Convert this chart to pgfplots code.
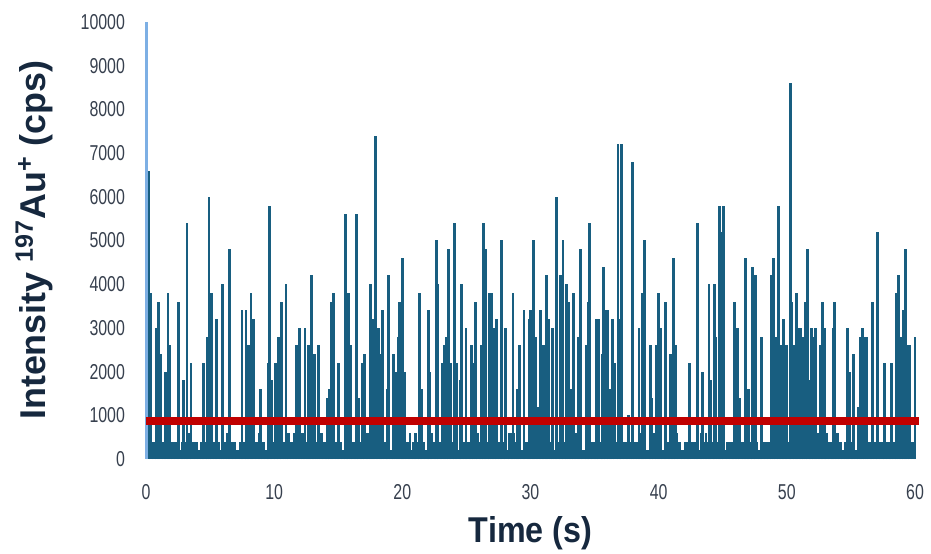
\documentclass[border=0pt]{standalone}
\usepackage{pgfplots}
\pgfplotsset{compat=1.18}
\usepackage{fontspec}
\setmainfont{Liberation Sans}
\usepackage{graphicx}
\definecolor{spk}{RGB}{24,94,128}
\definecolor{lb}{RGB}{125,175,228}
\definecolor{thr}{RGB}{192,0,0}
\definecolor{tk}{RGB}{55,64,78}
\definecolor{ttl}{RGB}{22,40,62}
\newcommand\tl[1]{\scalebox{0.74}[1]{#1}}
\begin{document}
\begin{tikzpicture}
\useasboundingbox (-73bp,-47.5bp) rectangle (392.5bp,229.5bp);
\begin{axis}[
  scale only axis, width=384.5bp, height=218.5bp,
  xmin=0, xmax=60, ymin=0, ymax=10000,
  scaled y ticks=false, scaled x ticks=false,
  axis line style={draw=none}, major tick length=0pt,
  xtick={0,10,20,30,40,50,60},
  xticklabels={\tl{0},\tl{10},\tl{20},\tl{30},\tl{40},\tl{50},\tl{60}},
  ytick={0,1000,2000,3000,4000,5000,6000,7000,8000,9000,10000},
  yticklabels={\tl{0},\tl{1000},\tl{2000},\tl{3000},\tl{4000},\tl{5000},\tl{6000},\tl{7000},\tl{8000},\tl{9000},\tl{10000}},
  tick label style={font=\fontsize{10.8}{12}\selectfont, text=tk},
  yticklabel shift=7bp, xticklabel shift=9bp,
  xlabel={\scalebox{0.9}[1]{Time (s)}},
  ylabel={Intensity \textsuperscript{197}Au\textsuperscript{+} (cps)},
  xlabel style={at={(axis description cs:0.5,-0.17)}, anchor=center, font=\fontsize{18}{20}\selectfont\bfseries, text=ttl},
  ylabel style={at={(axis description cs:-0.1456,0.501)}, anchor=center, font=\fontsize{18}{20}\selectfont\bfseries, text=ttl},
  clip=false,
]
% baseline counts
\addplot[ycomb, spk, line width=2bp] coordinates {
(0.125,400)(0.375,200)(0.625,400)(0.875,400)(1.125,600)(1.375,400)(1.625,200)(1.875,400)(2.125,400)(2.375,400)
(2.625,200)(2.875,400)(3.125,400)(3.375,600)(3.625,400)(3.875,400)(4.125,200)(4.375,400)(4.625,400)(4.875,200)
(5.125,400)(5.375,400)(5.625,400)(5.875,200)(6.125,400)(6.375,600)(6.625,400)(6.875,400)(7.125,200)(7.375,400)
(7.625,400)(7.875,200)(8.125,400)(8.375,400)(8.625,400)(8.875,600)(9.125,400)(9.375,200)(9.625,400)(9.875,400)
(10.125,400)(10.375,400)(10.625,200)(10.875,400)(11.125,400)(11.375,400)(11.625,600)(11.875,400)(12.125,200)(12.375,400)
(12.625,200)(12.875,400)(13.125,400)(13.375,400)(13.625,600)(13.875,400)(14.125,400)(14.375,200)(14.625,400)(14.875,400)
(15.125,400)(15.375,200)(15.625,400)(15.875,600)(16.125,400)(16.375,400)(16.625,400)(16.875,200)(17.125,400)(17.375,400)
(17.625,600)(17.875,400)(18.125,200)(18.375,400)(18.625,400)(18.875,400)(19.125,200)(19.375,400)(19.625,600)(19.875,400)
(20.125,400)(20.375,400)(20.625,200)(20.875,400)(21.125,400)(21.375,600)(21.625,400)(21.875,200)(22.125,400)(22.375,400)
(22.625,200)(22.875,400)(23.125,400)(23.375,400)(23.625,600)(23.875,400)(24.125,400)(24.375,200)(24.625,400)(24.875,400)
(25.125,400)(25.375,200)(25.625,400)(25.875,400)(26.125,400)(26.375,600)(26.625,400)(26.875,400)(27.125,200)(27.375,400)
(27.625,400)(27.875,400)(28.125,200)(28.375,400)(28.625,600)(28.875,400)(29.125,400)(29.375,200)(29.625,400)(29.875,400)
(30.125,200)(30.375,400)(30.625,400)(30.875,400)(31.125,400)(31.375,600)(31.625,400)(31.875,200)(32.125,400)(32.375,400)
(32.625,400)(32.875,200)(33.125,400)(33.375,600)(33.625,400)(33.875,400)(34.125,200)(34.375,400)(34.625,400)(34.875,400)
(35.125,400)(35.375,400)(35.625,200)(35.875,400)(36.125,400)(36.375,600)(36.625,400)(36.875,400)(37.125,200)(37.375,400)
(37.625,200)(37.875,400)(38.125,400)(38.375,400)(38.625,600)(38.875,400)(39.125,200)(39.375,400)(39.625,400)(39.875,400)
(40.125,400)(40.375,200)(40.625,400)(40.875,400)(41.125,400)(41.375,600)(41.625,400)(41.875,200)(42.125,400)(42.375,400)
(42.625,400)(42.875,400)(43.125,200)(43.375,600)(43.625,400)(43.875,400)(44.125,400)(44.375,200)(44.625,400)(44.875,400)
(45.125,200)(45.375,400)(45.625,400)(45.875,400)(46.125,600)(46.375,400)(46.625,400)(46.875,200)(47.125,400)(47.375,400)
(47.625,400)(47.875,200)(48.125,400)(48.375,400)(48.625,400)(48.875,600)(49.125,400)(49.375,200)(49.625,400)(49.875,400)
(50.125,400)(50.375,400)(50.625,200)(50.875,400)(51.125,600)(51.375,400)(51.625,400)(51.875,200)(52.125,400)(52.375,400)
(52.625,200)(52.875,400)(53.125,400)(53.375,400)(53.625,400)(53.875,600)(54.125,400)(54.375,200)(54.625,400)(54.875,400)
(55.125,400)(55.375,200)(55.625,400)(55.875,600)(56.125,400)(56.375,400)(56.625,200)(56.875,400)(57.125,400)(57.375,400)
(57.625,400)(57.875,400)(58.125,200)(58.375,400)(58.625,400)(58.875,600)(59.125,400)(59.375,200)(59.625,400)(59.875,400)
};
% particle events
\addplot[ycomb, spk, line width=1.4bp] coordinates {
(0.18,6600)(0.37,3800)(0.82,3000)(0.99,3600)(1.15,2400)(1.50,2000)(1.72,3800)(1.87,2600)(2.52,3600)(2.91,1800)
(3.20,5400)(3.51,2200)(4.50,2200)(4.76,2800)(4.91,6000)(5.10,3800)(5.50,3200)(6.00,4000)(6.50,4800)(7.49,3400)
(7.80,3400)(7.98,2600)(8.20,3800)(8.37,3200)(8.92,1600)(9.52,2200)(9.62,5800)(9.80,1800)(10.10,2200)(10.35,2800)
(10.60,3600)(10.92,4000)(11.10,600)(11.73,2600)(12.00,3000)(12.20,600)(12.40,3000)(12.66,2600)(12.78,2400)(12.92,4200)
(13.13,2400)(13.44,2600)(14.14,1400)(14.30,1600)(14.48,3600)(14.64,3800)(15.03,2200)(15.55,5600)(15.70,2800)(15.83,3800)
(15.98,2600)(16.43,5600)(16.58,1400)(16.90,2200)(17.03,2400)(17.28,600)(17.53,4000)(17.68,3200)(17.76,2000)(17.92,7400)
(18.12,3000)(18.27,2400)(18.43,3400)(18.80,1600)(18.93,4200)(19.32,2400)(19.48,2000)(19.68,2800)(19.81,3600)(20.00,4600)
(20.16,2000)(20.60,600)(21.00,600)(21.32,3800)(21.50,1600)(22.02,3400)(22.15,2000)(22.28,600)(22.65,5000)(22.78,4000)
(23.10,2200)(23.26,2600)(23.42,2800)(23.61,4800)(23.74,2200)(24.05,5400)(24.20,2200)(24.52,1800)(24.62,4000)(24.96,3000)
(25.40,2600)(25.58,2200)(25.72,3600)(25.85,600)(26.13,2600)(26.31,5400)(26.52,4800)(26.83,3800)(26.96,3800)(27.20,3000)
(27.33,3200)(27.74,5000)(28.03,3000)(28.37,600)(28.63,3800)(28.94,1600)(29.12,2600)(29.50,3400)(29.90,3200)(30.03,3400)
(30.21,5000)(30.40,2800)(30.55,1200)(30.81,3400)(31.04,2600)(31.23,4200)(31.38,3200)(31.72,3000)(32.03,6000)(32.32,4200)
(32.53,5000)(32.81,4000)(32.99,3600)(33.20,1600)(33.33,3800)(33.51,600)(33.72,2800)(33.93,4800)(34.37,2600)(34.50,3600)
(34.63,5400)(35.15,3200)(35.28,3200)(35.59,2400)(35.72,4400)(35.88,3400)(36.04,3400)(36.22,1600)(36.40,3200)(36.53,2200)
(36.82,7200)(36.98,3200)(37.13,7200)(37.65,1000)(37.93,6800)(38.46,3000)(38.74,3800)(38.92,5000)(39.34,2600)(39.47,1400)
(39.62,600)(39.83,2600)(39.96,3800)(40.14,3000)(40.56,3600)(40.92,2400)(41.13,4600)(41.30,2600)(42.43,2200)(43.06,5400)
(43.42,2000)(43.70,600)(43.92,4000)(44.05,1800)(44.33,4000)(44.46,2800)(44.72,5800)(44.88,5200)(45.03,5800)(45.92,3600)
(46.13,3000)(46.28,1400)(46.80,4600)(47.03,1600)(47.32,4400)(47.55,4200)(48.03,2800)(48.83,4200)(48.96,4600)(49.12,2800)
(49.35,5800)(49.48,2600)(49.74,3200)(49.98,2600)(50.26,8600)(50.39,3600)(50.57,2600)(50.76,3800)(50.92,3000)(51.10,3000)
(51.27,2800)(51.48,3600)(51.64,4800)(51.80,1800)(51.93,3000)(52.09,2800)(52.24,3000)(52.40,600)(52.63,2600)(52.81,3600)
(52.97,3000)(53.10,600)(53.60,3000)(53.74,3600)(54.73,3000)(54.88,2000)(55.23,2400)(55.60,1200)(55.72,2800)(55.90,3000)
(56.03,2800)(56.24,2800)(56.71,3600)(57.05,5200)(57.62,2200)(58.14,2200)(58.58,3800)(58.74,4200)(58.93,2800)(59.13,3400)
(59.26,4800)(59.40,2600)(59.54,2600)(60.00,2800)
};
% first point
\addplot[ycomb, lb, line width=1.1bp] coordinates {(0.04,10000)};
% detection threshold
\addplot[thr, line width=4bp] coordinates {(0,880)(60.3,880)};
\end{axis}
\end{tikzpicture}
\end{document}
